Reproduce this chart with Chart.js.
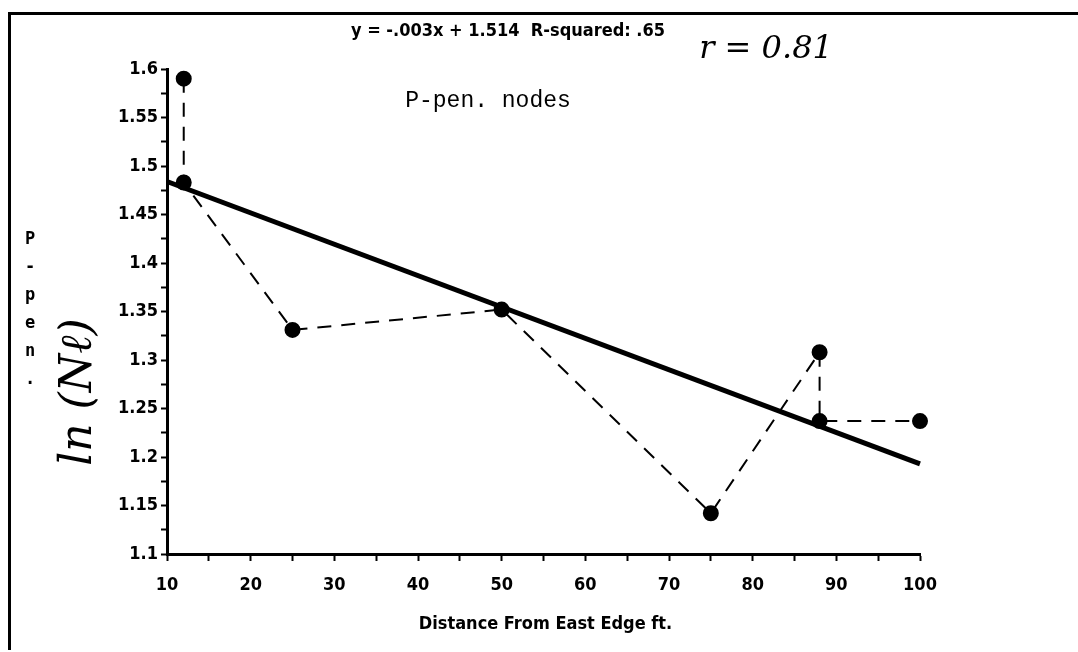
<!DOCTYPE html>
<html>
<head>
<meta charset="utf-8">
<script src="https://cdn.jsdelivr.net/npm/chart.js@4"></script>
<style>
  html, body { margin: 0; padding: 0; background: #fff; }
  #wrap { position: relative; width: 1078px; height: 652px; }
  #frame { position: absolute; left: 8px; top: 12px; right: 0; bottom: 2px;
           border-left: 3px solid #000; border-top: 3px solid #000; }
  canvas { position: absolute; left: 0; top: 0; }
</style>
</head>
<body>
<div id="wrap">
  <div id="frame"></div>
  <canvas id="chart" width="1078" height="652"></canvas>
</div>
<script>
// measured points, joined in order by the dashed line
const distFt = [12, 12, 25, 50, 75, 88, 88, 100];
const pPen = [1.59, 1.483, 1.331, 1.352, 1.142, 1.308, 1.237, 1.237];
// fitted line as drawn on the chart
const fitX = [10, 100];
const fitY = [1.484, 1.193];
const fitLabel = 'y = -.003x + 1.514  R-squared: .65';
const noteLabel = 'r = 0.81';
const seriesLabel = 'P-pen. nodes';
const yTitleLetters = ['P', '-', 'p', 'e', 'n', '.'];
const yTitleHand = 'ln (N\u2113)';
const xTitle = 'Distance From East Edge ft.';

const tickFont = { family: 'DejaVu Sans Condensed', size: 18, weight: 'bold' };

const textPlugin = {
    id: 'texts',
    afterDraw: (chart) => {
        let ctx = chart.ctx;
        let area = chart.chartArea;
        ctx.save();
        ctx.fillStyle = '#000';
        ctx.textAlign = 'center';
        ctx.textBaseline = 'middle';
        ctx.font = 'bold 18px "DejaVu Sans Condensed"';
        ctx.fillText(fitLabel, 508, 31);
        ctx.font = 'italic 32px "DejaVu Serif"';
        ctx.fillText(noteLabel, 766, 50);
        ctx.font = '23px "Liberation Mono"';
        ctx.fillText(seriesLabel, 488, 101);
        ctx.font = 'bold 18px "DejaVu Sans Condensed"';
        ctx.fillText(xTitle, (area.left + area.right) / 2 + 2, 624);
        ctx.font = 'bold 17px "DejaVu Sans Mono"';
        yTitleLetters.forEach((ch, i) => {
            ctx.fillText(ch, 30, 240 + i * 28);
        });
        ctx.translate(80, 392);
        ctx.rotate(-Math.PI / 2);
        ctx.font = 'italic 44px "DejaVu Serif"';
        ctx.fillText(yTitleHand, 0, 0);
        ctx.restore();
    }
};

new Chart(document.getElementById('chart').getContext('2d'), {
    type: 'scatter',
    data: {
        datasets: [
            {
                label: fitLabel,
                data: fitX.map((x, i) => ({ x: x, y: fitY[i] })),
                showLine: true,
                borderColor: '#000',
                borderWidth: 5,
                pointRadius: 0,
                clip: false
            },
            {
                label: seriesLabel,
                data: distFt.map((x, i) => ({ x: x, y: pPen[i] })),
                showLine: true,
                borderColor: '#000',
                borderWidth: 2,
                borderDash: [14, 10],
                pointRadius: 7,
                pointBackgroundColor: '#000',
                pointBorderColor: '#000',
                clip: false
            }
        ]
    },
    options: {
        responsive: false,
        animation: false,
        layout: { padding: { left: 0, right: 158, top: 69, bottom: 0 } },
        plugins: {
            legend: { display: false },
            tooltip: { enabled: false }
        },
        scales: {
            x: {
                type: 'linear',
                min: 10,
                max: 100,
                afterFit: (scale) => { scale.height = 98; },
                border: { display: true, color: '#000', width: 3 },
                grid: {
                    drawOnChartArea: false,
                    drawTicks: true,
                    tickLength: 7,
                    tickColor: '#000',
                    tickWidth: 2
                },
                ticks: {
                    stepSize: 5,
                    color: '#000',
                    font: tickFont,
                    padding: 14,
                    maxRotation: 0,
                    autoSkip: false,
                    callback: (v) => (v % 10 === 0 ? v : '')
                }
            },
            y: {
                type: 'linear',
                min: 1.1,
                max: 1.6,
                afterFit: (scale) => { scale.width = 167; },
                border: { display: true, color: '#000', width: 3 },
                grid: {
                    drawOnChartArea: false,
                    drawTicks: true,
                    tickLength: 6,
                    tickColor: '#000',
                    tickWidth: 2
                },
                ticks: {
                    stepSize: 0.025,
                    color: '#000',
                    font: tickFont,
                    padding: 3,
                    autoSkip: false,
                    callback: (v) => {
                        let r = Math.round(v * 1000) / 1000;
                        if (Math.round(r * 1000) % 50 !== 0) return '';
                        return String(r);
                    }
                }
            }
        }
    },
    plugins: [textPlugin]
});
</script>
</body>
</html>
